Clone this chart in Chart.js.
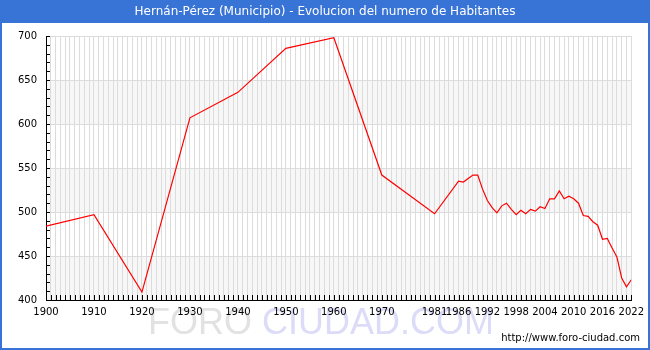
<!doctype html>
<html>

<head>
	<title>Hernán-Pérez (Municipio) - Evolucion del numero de Habitantes</title>
	<script src="https://cdn.jsdelivr.net/npm/chart.js@4/dist/chart.umd.min.js"></script>
	<style>
		body {
			margin: 0;
			background: #fff;
		}
		#holder {
			width: 650px;
			height: 350px;
		}
	</style>
</head>

<body>
	<div id="holder">
		<canvas id="chart-area"></canvas>
	</div>
	<script>
		const titleText = 'Hernán-Pérez (Municipio) - Evolucion del numero de Habitantes';
		const years = [1900, 1910, 1920, 1930, 1940, 1950, 1960, 1970, 1981, 1986,
			1987, 1988, 1989, 1990, 1991, 1992, 1993, 1994, 1995, 1996,
			1997, 1998, 1999, 2000, 2001, 2002, 2003, 2004, 2005, 2006,
			2007, 2008, 2009, 2010, 2011, 2012, 2013, 2014, 2015, 2016,
			2017, 2018, 2019, 2020, 2021, 2022];
		const habitantes = [484, 497, 409, 607, 636, 686, 698, 542, 498, 535,
			534, 538, 542, 542, 526, 513, 505, 499, 507, 510,
			503, 497, 502, 498, 503, 501, 506, 504, 515, 515,
			524, 515, 518, 515, 510, 496, 495, 489, 485, 469,
			470, 459, 449, 425, 415, 423];
		const xLabelYears = [1900, 1910, 1920, 1930, 1940, 1950, 1960, 1970, 1981, 1986, 1992, 1998, 2004, 2010, 2016, 2022];
		const yMin = 400;
		const yMax = 700;

		Chart.defaults.font.family = '"DejaVu Sans", Verdana, sans-serif';
		Chart.defaults.font.size = 10;
		Chart.defaults.color = '#000';

		// title bar, frame, shaded bands and watermark
		const backdrop = {
			id: 'backdrop',
			beforeDraw(chart) {
				const ctx = chart.ctx;
				const area = chart.chartArea;
				const y = chart.scales.y;
				ctx.save();
				ctx.fillStyle = '#fff';
				ctx.fillRect(0, 0, chart.width, chart.height);
				ctx.fillStyle = '#f7f7f7';
				for (let v = yMin; v < yMax; v += 100) {
					const top = y.getPixelForValue(v + 50);
					const bot = y.getPixelForValue(v);
					ctx.fillRect(area.left, top, area.right - area.left, bot - top);
				}
				ctx.font = '36px "Liberation Sans", Arial, sans-serif';
				ctx.textBaseline = 'alphabetic';
				ctx.textAlign = 'left';
				ctx.fillStyle = '#e2e2e2';
				ctx.fillText('FORO', 148, 334);
				const w = ctx.measureText('FORO ').width;
				ctx.fillStyle = '#dcdcf8';
				ctx.fillText('CIUDAD.COM', 148 + w, 334);
				ctx.fillStyle = '#3873d6';
				ctx.fillRect(0, 0, chart.width, 23);
				ctx.fillStyle = '#fff';
				ctx.font = '12px "DejaVu Sans", sans-serif';
				ctx.textAlign = 'center';
				ctx.textBaseline = 'middle';
				ctx.fillText(titleText, chart.width / 2, 12);
				ctx.restore();
			},
			afterDraw(chart) {
				const ctx = chart.ctx;
				const area = chart.chartArea;
				const xs = chart.scales.x;
				const ys = chart.scales.y;
				ctx.save();
				ctx.strokeStyle = '#000';
				ctx.lineWidth = 1;
				ctx.beginPath();
				xs.ticks.forEach((t) => {
					const px = Math.round(xs.getPixelForValue(t.value)) + 0.5;
					ctx.moveTo(px, area.bottom);
					ctx.lineTo(px, area.bottom - 5);
				});
				ys.ticks.forEach((t) => {
					const py = Math.round(ys.getPixelForValue(t.value)) + 0.5;
					ctx.moveTo(area.left, py);
					ctx.lineTo(area.left + 4, py);
				});
				ctx.stroke();
				ctx.fillStyle = '#000';
				ctx.font = '10px "DejaVu Sans", sans-serif';
				ctx.textAlign = 'right';
				ctx.textBaseline = 'middle';
				ctx.fillText('http://www.foro-ciudad.com', 640, 338);
				ctx.strokeStyle = '#3873d6';
				ctx.lineWidth = 2;
				ctx.strokeRect(1, 1, chart.width - 2, chart.height - 2);
				ctx.restore();
			}
		};

		const config = {
			type: 'line',
			data: {
				datasets: [{
					data: years.map((yr, i) => ({ x: yr, y: habitantes[i] })),
					borderColor: '#ff0000',
					borderWidth: 1.2,
					pointRadius: 0,
					tension: 0,
					fill: false
				}]
			},
			options: {
				responsive: true,
				maintainAspectRatio: false,
				animation: false,
				layout: {
					padding: { left: 0, right: 14, top: 36, bottom: 0 }
				},
				plugins: {
					legend: { display: false },
					title: { display: false },
					tooltip: { enabled: false }
				},
				scales: {
					x: {
						type: 'linear',
						min: 1900,
						max: 2022,
						afterFit: (s) => { s.height = 50; },
						ticks: {
							stepSize: 1,
							autoSkip: false,
							maxRotation: 0,
							padding: 6,
							callback: (v) => xLabelYears.includes(v) ? String(v) : ''
						},
						grid: {
							color: '#dcdcdc',
							drawTicks: false
						},
						border: { color: '#000' }
					},
					y: {
						min: yMin,
						max: yMax,
						afterFit: (s) => { s.width = 46; },
						ticks: {
							stepSize: 10,
							autoSkip: false,
							padding: 9,
							callback: (v) => v % 50 === 0 ? String(v) : ''
						},
						grid: {
							color: (c) => c.tick && c.tick.value % 50 === 0 ? '#dcdcdc' : 'rgba(0,0,0,0)',
							drawTicks: false
						},
						border: { color: '#000' }
					}
				}
			},
			plugins: [backdrop]
		};

		window.onload = function() {
			const ctx = document.getElementById('chart-area');
			window.myLine = new Chart(ctx, config);
		};
	</script>
</body>

</html>
